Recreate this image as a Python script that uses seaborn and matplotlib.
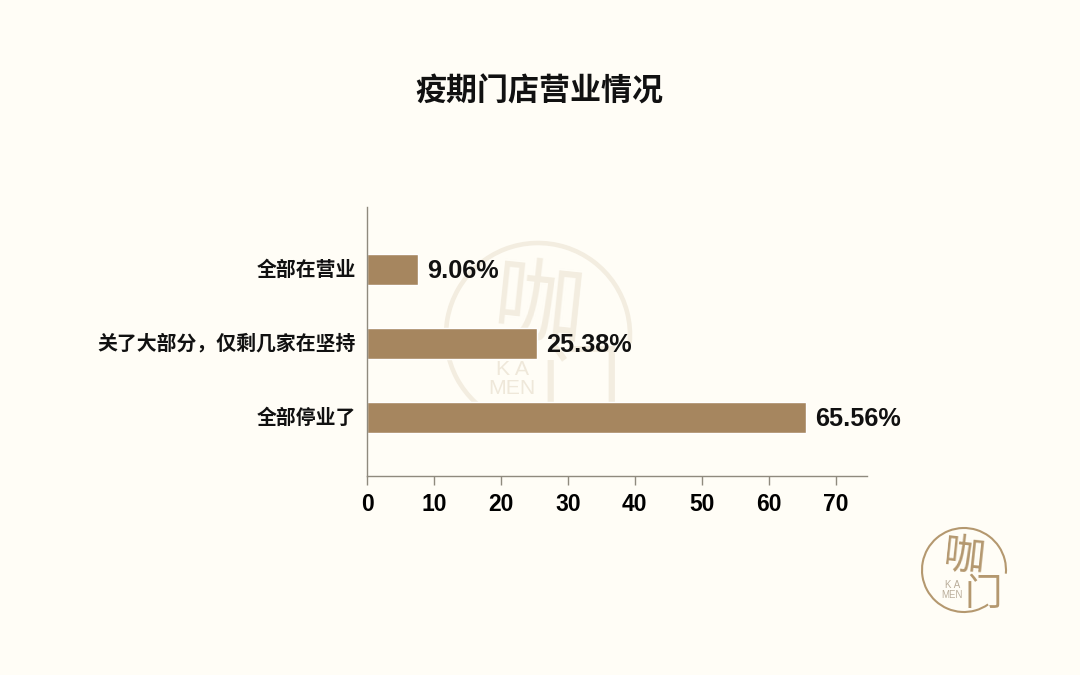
import matplotlib
matplotlib.use("Agg")
import matplotlib.pyplot as plt
from matplotlib.patches import Arc
from matplotlib.transforms import ScaledTranslation
import pandas as pd
import seaborn as sns

categories = ["全部在营业", "关了大部分，仅剩几家在坚持", "全部停业了"]
bar_values = [7.6, 25.4, 65.6]   # 图上条长和标注不一致，第一条只画到7.6左右
bar_labels = ["9.06%", "25.38%", "65.56%"]
x_ticks = [0, 10, 20, 30, 40, 50, 60, 70]
title = "疫期门店营业情况"

BG = "#FFFDF6"
BAR = "#A6865F"
AXIS = "#8F8A7E"
FONTS = ["Liberation Sans", "Noto Sans CJK SC", "DejaVu Sans"]

sns.set_theme(style="white")
plt.rcParams["font.family"] = FONTS

W, H = 1080, 675


def draw_logo(cx, cy, r, color, kamen_color, zorder, alpha=1.0):
    # 圆形logo，按像素位置放一个透明的小axes
    ax_logo = fig.add_axes([(cx - r * 1.1) / W, 1 - (cy + r * 1.1) / H, 2.2 * r / W, 2.2 * r / H], zorder=zorder)
    ax_logo.set_xlim(-1.1, 1.1)
    ax_logo.set_ylim(-1.1, 1.1)
    ax_logo.axis("off")
    ax_logo.patch.set_alpha(0)
    # 右下角留缺口给"门"字
    ax_logo.add_patch(Arc((0, 0), 2, 2, theta1=-5, theta2=305, color=color, lw=r / 28, alpha=alpha))
    fs = r / 42
    ax_logo.text(0.0, 0.28, "咖", family="Noto Sans CJK SC", fontsize=30 * fs, color=color, alpha=alpha,
                 rotation=-6, ha="center", va="center")
    ax_logo.text(0.46, -0.58, "门", family="Noto Sans CJK SC", fontsize=27 * fs, color=color, alpha=alpha,
                 ha="center", va="center")
    ax_logo.text(-0.28, -0.48, "K A\nMEN", family="Liberation Sans", fontsize=7 * fs, color=kamen_color, alpha=alpha,
                 ha="center", va="center", linespacing=1.0)


df = pd.DataFrame({"category": categories, "value": bar_values})

fig = plt.figure(figsize=(W / 100, H / 100), dpi=100, facecolor=BG)

# 水印在柱子下面
draw_logo(538, 335, 92, "#F3EDE0", "#EFE8DA", zorder=0)

ax = fig.add_axes([367 / W, 1 - 476 / H, (867 - 367) / W, (476 - 207) / H], zorder=1)
ax.patch.set_alpha(0)
sns.barplot(data=df, y="category", x="value", orient="h", color=BAR, saturation=1, width=0.42, ax=ax)

ax.set_xlim(0, 74.7)
ax.set_ylim(2.795, -0.84)
ax.set_xticks(x_ticks)
ax.set_xlabel("")
ax.set_ylabel("")
sns.despine(ax=ax)
for side in ["left", "bottom"]:
    ax.spines[side].set_color(AXIS)
    ax.spines[side].set_linewidth(1.0)

ax.tick_params(axis="x", length=6.5, width=1, color=AXIS, pad=6, labelsize=16.5, labelcolor="black", bottom=True)
ax.tick_params(axis="y", length=0, pad=8, labelsize=14.3, labelcolor="#111111")
for t in ax.get_xticklabels():
    t.set_fontweight("bold")
# y轴标签整体上移一点
label_shift = ScaledTranslation(0, 2 / 100, fig.dpi_scale_trans)
for t in ax.get_yticklabels():
    t.set_fontweight("bold")
    t.set_family(["Noto Sans CJK SC", "DejaVu Sans"])
    t.set_transform(t.get_transform() + label_shift)

for i, (v, lab) in enumerate(zip(bar_values, bar_labels)):
    ax.annotate(lab, (v, i), xytext=(6.5, -1), textcoords="offset points", ha="left", va="center",
                fontsize=18.2, fontweight="bold", color="#111111")

fig.text(539.5 / W, 1 - 92 / H, title, family="Noto Sans CJK SC", fontsize=22.3, fontweight="bold",
         color="#111111", ha="center", va="center")

draw_logo(964, 570, 42, "#B4986F", "#B9AD9A", zorder=2)

fig.savefig("out.png", dpi=100, facecolor=BG)
